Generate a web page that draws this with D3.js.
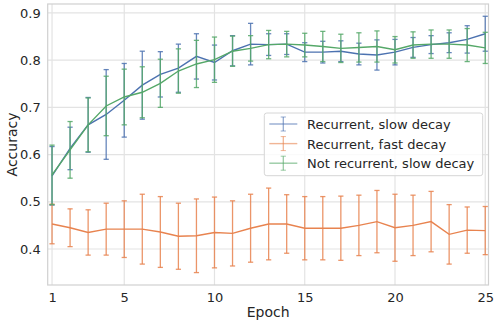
<!DOCTYPE html>
<html>
<head>
<meta charset="utf-8">
<script src="https://cdn.jsdelivr.net/npm/d3@7"></script>
<style>
    body { margin: 0; background: white; }
    text { font-family: "DejaVu Sans", sans-serif; fill: #262626; }
</style>
</head>
<body>
<div id="chart"></div>
<script>
// epochs on the x axis
let epochs = [1, 2, 3, 4, 5, 6, 7, 8, 9, 10, 11, 12, 13, 14, 15, 16, 17, 18, 19, 20, 21, 22, 23, 24, 25];

// recurrent, slow decay
let slowMean = [0.555, 0.613, 0.663, 0.685, 0.715, 0.747, 0.770, 0.783, 0.808, 0.795, 0.820, 0.834, 0.833,
    0.834, 0.817, 0.817, 0.819, 0.813, 0.811, 0.817, 0.827, 0.833, 0.837, 0.844, 0.856];
let slowErr = [0.062, 0.045, 0.058, 0.095, 0.078, 0.072, 0.048, 0.051, 0.048, 0.037, 0.032, 0.044, 0.023,
    0.022, 0.020, 0.023, 0.022, 0.023, 0.032, 0.027, 0.021, 0.019, 0.021, 0.029, 0.037];

// recurrent, fast decay
let fastMean = [0.453, 0.445, 0.435, 0.442, 0.442, 0.442, 0.436, 0.427, 0.428, 0.435, 0.433, 0.444, 0.453,
    0.453, 0.444, 0.444, 0.444, 0.450, 0.458, 0.445, 0.450, 0.458, 0.431, 0.440, 0.439];
let fastErr = [0.042, 0.040, 0.048, 0.055, 0.060, 0.074, 0.075, 0.070, 0.078, 0.075, 0.069, 0.072, 0.076,
    0.062, 0.067, 0.067, 0.068, 0.064, 0.066, 0.071, 0.064, 0.064, 0.063, 0.049, 0.051];

// not recurrent, slow decay
let noRecMean = [0.557, 0.610, 0.663, 0.703, 0.722, 0.732, 0.751, 0.777, 0.792, 0.801, 0.819, 0.825, 0.833,
    0.834, 0.832, 0.829, 0.825, 0.827, 0.829, 0.822, 0.832, 0.834, 0.834, 0.832, 0.826];
let noRecErr = [0.063, 0.060, 0.057, 0.063, 0.059, 0.054, 0.051, 0.047, 0.050, 0.048, 0.032, 0.027, 0.030,
    0.027, 0.025, 0.032, 0.030, 0.031, 0.033, 0.028, 0.028, 0.030, 0.030, 0.035, 0.033];

let seriesNames = ["Recurrent, slow decay", "Recurrent, fast decay", "Not recurrent, slow decay"];
let seriesColors = ["#4c72b0", "#e8834f", "#55a868"];

let xTicks = [1, 5, 10, 15, 20, 25];
let yTicks = [0.4, 0.5, 0.6, 0.7, 0.8, 0.9];

// build rows for each series
let series = [
    {name: seriesNames[0], color: seriesColors[0], mean: slowMean, err: slowErr},
    {name: seriesNames[1], color: seriesColors[1], mean: fastMean, err: fastErr},
    {name: seriesNames[2], color: seriesColors[2], mean: noRecMean, err: noRecErr}
].map(s => ({
    name: s.name,
    color: s.color,
    values: epochs.map((e, i) => ({epoch: e, mean: s.mean[i], err: s.err[i]}))
}));

let width = 498, height = 325;
let margin = {top: 4, right: 9.5, bottom: 40, left: 47.7};
let innerW = width - margin.left - margin.right;
let innerH = height - margin.top - margin.bottom;

let svg = d3.select("#chart").append("svg")
    .attr("width", width)
    .attr("height", height);

let g = svg.append("g")
    .attr("transform", `translate(${margin.left}, ${margin.top})`);

let x = d3.scaleLinear().domain([0.76, 25.18]).range([0, innerW]);
let y = d3.scaleLinear().domain([0.3237, 0.919]).range([innerH, 0]);

// grid lines
g.selectAll(".xgrid")
    .data(xTicks)
    .enter()
    .append("line")
    .attr("x1", d => x(d)).attr("x2", d => x(d))
    .attr("y1", 0).attr("y2", innerH)
    .attr("stroke", "#e3e3e3")
    .attr("stroke-width", 1.2);

g.selectAll(".ygrid")
    .data(yTicks)
    .enter()
    .append("line")
    .attr("x1", 0).attr("x2", innerW)
    .attr("y1", d => y(d)).attr("y2", d => y(d))
    .attr("stroke", "#e3e3e3")
    .attr("stroke-width", 1.2);

// frame
g.append("rect")
    .attr("width", innerW)
    .attr("height", innerH)
    .attr("fill", "none")
    .attr("stroke", "#d0d0d0")
    .attr("stroke-width", 1.2);

// axes (no tick marks, just labels)
let xAxis = g.append("g")
    .attr("transform", `translate(0, ${innerH})`)
    .call(d3.axisBottom(x).tickValues(xTicks).tickSize(0).tickPadding(8).tickFormat(d3.format("d")));
let yAxis = g.append("g")
    .call(d3.axisLeft(y).tickValues(yTicks).tickSize(0).tickPadding(7).tickFormat(d3.format(".1f")));

[xAxis, yAxis].forEach(a => {
    a.select(".domain").remove();
    a.selectAll("text")
        .style("font-family", "DejaVu Sans, sans-serif")
        .style("font-size", "13px")
        .attr("fill", "#262626");
});

// axis titles
svg.append("text")
    .attr("x", margin.left + innerW / 2)
    .attr("y", 317)
    .attr("text-anchor", "middle")
    .style("font-size", "14px")
    .text("Epoch");

svg.append("text")
    .attr("transform", `translate(17, ${margin.top + innerH / 2}) rotate(-90)`)
    .attr("text-anchor", "middle")
    .style("font-size", "14px")
    .text("Accuracy");

// error bars + lines
let cap = 2.6;
let line = d3.line().x(d => x(d.epoch)).y(d => y(d.mean));

series.forEach(s => {
    let sg = g.append("g");

    let bars = sg.selectAll(".bar")
        .data(s.values)
        .enter()
        .append("g")
        .attr("stroke", s.color)
        .attr("stroke-opacity", 0.85)
        .attr("stroke-width", 1.3);

    bars.append("line")
        .attr("x1", d => x(d.epoch)).attr("x2", d => x(d.epoch))
        .attr("y1", d => y(d.mean - d.err)).attr("y2", d => y(d.mean + d.err));
    bars.append("line")
        .attr("x1", d => x(d.epoch) - cap).attr("x2", d => x(d.epoch) + cap)
        .attr("y1", d => y(d.mean + d.err)).attr("y2", d => y(d.mean + d.err));
    bars.append("line")
        .attr("x1", d => x(d.epoch) - cap).attr("x2", d => x(d.epoch) + cap)
        .attr("y1", d => y(d.mean - d.err)).attr("y2", d => y(d.mean - d.err));

    sg.append("path")
        .datum(s.values)
        .attr("fill", "none")
        .attr("stroke", s.color)
        .attr("stroke-width", 1.4)
        .attr("d", line);
});

// legend
let legend = g.append("g")
    .attr("transform", `translate(${264.3 - margin.left}, ${113 - margin.top})`);

legend.append("rect")
    .attr("width", 218.4)
    .attr("height", 62.7)
    .attr("rx", 2.5)
    .attr("fill", "white")
    .attr("fill-opacity", 0.8)
    .attr("stroke", "#d6d6d6")
    .attr("stroke-width", 1);

let items = legend.selectAll(".item")
    .data(series)
    .enter()
    .append("g")
    .attr("transform", (d, i) => `translate(0, ${11 + i * 19.6})`);

items.append("line")
    .attr("x1", 5).attr("x2", 33)
    .attr("y1", 0).attr("y2", 0)
    .attr("stroke", d => d.color)
    .attr("stroke-opacity", 0.6)
    .attr("stroke-width", 1.4);
items.append("line")
    .attr("x1", 19).attr("x2", 19)
    .attr("y1", -7).attr("y2", 7)
    .attr("stroke", d => d.color)
    .attr("stroke-opacity", 0.6)
    .attr("stroke-width", 1.3);
items.append("line")
    .attr("x1", 19 - cap).attr("x2", 19 + cap)
    .attr("y1", -7).attr("y2", -7)
    .attr("stroke", d => d.color)
    .attr("stroke-opacity", 0.6);
items.append("line")
    .attr("x1", 19 - cap).attr("x2", 19 + cap)
    .attr("y1", 7).attr("y2", 7)
    .attr("stroke", d => d.color)
    .attr("stroke-opacity", 0.6);

items.append("text")
    .attr("x", 42.7)
    .attr("y", 5)
    .style("font-size", "13px")
    .text(d => d.name);
</script>
</body>
</html>
